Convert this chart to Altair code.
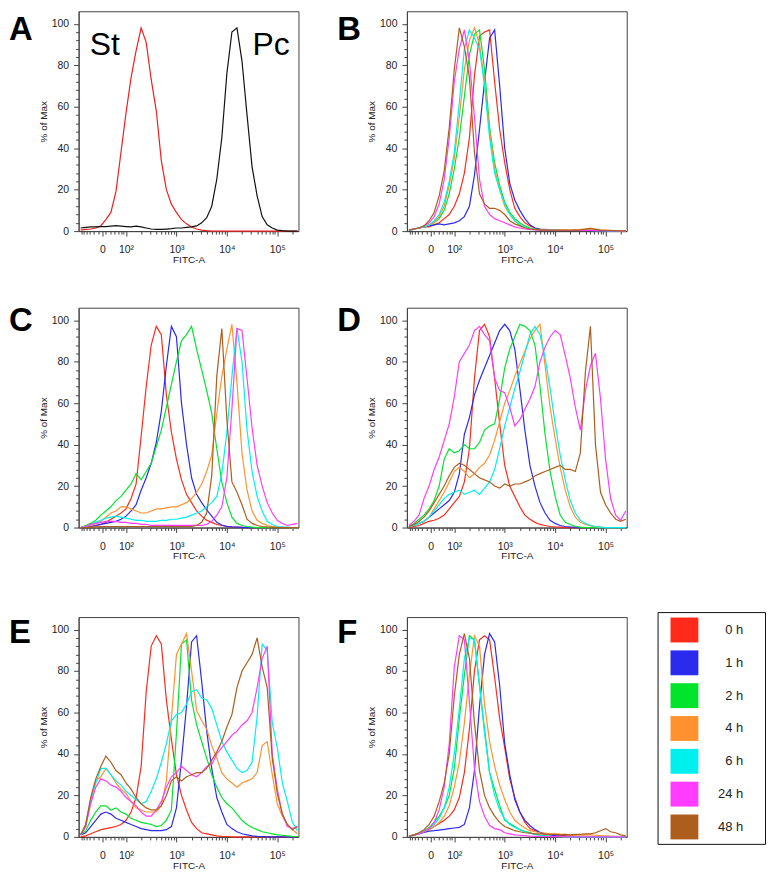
import altair as alt
import pandas as pd

FONT = "Liberation Sans"

# x positions of the histogram bins, in display decades (2 = 10^2, 3 = 10^3 ...)
U_GRID = [1.1, 1.2, 1.3, 1.4, 1.5, 1.6, 1.7, 1.8, 1.9, 2.0,
          2.1, 2.2, 2.3, 2.4, 2.5, 2.6, 2.7, 2.8, 2.9, 3.0,
          3.1, 3.2, 3.3, 3.4, 3.5, 3.6, 3.7, 3.8, 3.9, 4.0,
          4.1, 4.2, 4.3, 4.4, 4.5, 4.6, 4.7, 4.8, 4.9, 5.0,
          5.1, 5.2, 5.3, 5.4]

SERIES = ["0 h", "1 h", "2 h", "4 h", "6 h", "24 h", "48 h"]
COLORS = ["#FF2A1A", "#2B2BF0", "#00E52C", "#FF922E", "#00F0F0", "#FF3CFF", "#AD5E1C"]

X_MAJOR = [1.53, 2, 3, 4, 5]
X_MAJOR_LABELS = ["0", "10\u00b2", "10\u00b3", "10\u2074", "10\u2075"]
X_MINOR = [1.11, 1.16, 1.21, 1.28, 1.36, 1.46, 1.60, 1.70, 1.78, 1.85, 1.90, 1.95,
           2.301, 2.477, 2.602, 2.699, 2.778, 2.845, 2.903, 2.954,
           3.301, 3.477, 3.602, 3.699, 3.778, 3.845, 3.903, 3.954,
           4.301, 4.477, 4.602, 4.699, 4.778, 4.845, 4.903, 4.954,
           5.301]
Y_TICKS = [0, 4, 8, 12, 16, 20, 24, 28, 32, 36, 40, 44, 48, 52, 56, 60,
           64, 68, 72, 76, 80, 84, 88, 92, 96, 100]

# ---- Panel A ----
A_NAMES = ["St", "Pc"]
A_COLORS = ["#F01E1E", "#111111"]
A_ST = [0.5, 0.8, 1, 1.5, 2.5, 5.5, 9, 19, 38, 57,
        74, 87, 98, 91, 73, 58, 34, 20, 13, 9,
        5.5, 3.5, 2, 1, 0.5, 0.2, 0, 0, 0, 0,
        0, 0, 0, 0, 0, 0, 0, 0, 0, 0,
        0, 0, 0, 0]
A_PC = [1.5, 1.8, 2, 2, 2.2, 2.2, 2.4, 2.6, 2.4, 2.2,
        2, 2.4, 2, 1.5, 1, 0.8, 0.8, 1, 1.2, 1.5,
        1.5, 1.8, 2, 2.5, 4, 6.5, 12, 25, 45, 76,
        96, 98, 82, 56, 31, 17, 7, 3, 1.5, 0.5,
        0.2, 0, 0, 0]
ANNOT_TEXT = ["St", "Pc"]
ANNOT_U = [1.28, 4.51]
ANNOT_V = [85, 85]

# ---- Panel B ----
B_0H = [0.5, 1, 1.5, 2, 2, 3, 4, 6, 8, 12,
        18, 28, 45, 75, 94, 96, 97, 72, 49, 33,
        20, 11, 7, 4, 2.5, 1.5, 1, 0.8, 0.6, 0.5,
        0.5, 0.5, 0.4, 0.5, 0.6, 0.5, 0.5, 0.4, 0.3, 0.3,
        0.2, 0.2, 0.1, 0]
B_1H = [0.5, 1, 1.5, 2, 2.5, 3, 3.5, 3, 3.5, 4,
        5, 7, 12, 27, 49, 72, 93, 97, 70, 40,
        23, 15, 10, 6, 3, 1.5, 0.8, 0.5, 0.4, 0.4,
        0.3, 0.3, 0.3, 0.3, 0.3, 0.3, 0.2, 0.2, 0.2, 0.2,
        0.1, 0.1, 0, 0]
B_2H = [0.3, 1, 1.5, 2, 3, 4, 6, 10, 18, 30,
        45, 65, 85, 95, 97, 78, 50, 33, 22, 14,
        9, 6, 4, 2.5, 1.5, 1, 0.8, 0.6, 0.5, 0.5,
        0.4, 0.4, 0.3, 0.4, 0.5, 0.4, 0.3, 0.3, 0.3, 0.2,
        0.2, 0.1, 0.1, 0]
B_4H = [0.3, 0.8, 1.5, 2, 3, 4, 7, 12, 22, 35,
        55, 78, 92, 98, 90, 72, 48, 30, 20, 12,
        8, 5, 3, 2, 1, 0.8, 0.6, 0.5, 0.5, 0.6,
        0.5, 0.5, 0.5, 0.6, 0.8, 1, 1.5, 1, 0.6, 0.5,
        0.4, 0.3, 0.2, 0.1]
B_6H = [0.3, 0.8, 1.5, 2, 3, 5, 8, 14, 24, 38,
        62, 88, 97, 93, 88, 70, 45, 28, 20, 13,
        8, 5, 3, 2, 1, 0.8, 0.6, 0.5, 0.4, 0.4,
        0.3, 0.3, 0.3, 0.3, 0.3, 0.3, 0.3, 0.2, 0.2, 0.2,
        0.1, 0.1, 0, 0]
B_24H = [0.5, 1, 1.5, 2.5, 4, 7, 13, 25, 45, 72,
         88, 97, 82, 55, 25, 12, 8, 6, 5, 4,
         3, 2, 1.5, 1, 0.8, 0.6, 0.5, 0.5, 0.4, 0.4,
         0.3, 0.3, 0.3, 0.3, 0.3, 0.3, 0.3, 0.2, 0.2, 0.2,
         0.1, 0.1, 0, 0]
B_48H = [0.5, 1, 1.5, 2.5, 5, 9, 17, 29, 50, 78,
         98, 89, 74, 38, 18, 13, 11, 11, 10, 8,
         5, 3.5, 2.5, 1.5, 1, 0.8, 0.5, 0.5, 0.4, 0.4,
         0.4, 0.4, 0.4, 0.5, 0.6, 1, 1.2, 0.8, 0.5, 0.4,
         0.3, 0.2, 0.1, 0]

# ---- Panel C ----
C_0H = [0, 0.3, 0.5, 1, 1.5, 2.5, 4, 5.5, 7, 9,
        14, 21, 44, 68, 88, 97, 93, 64, 46, 33,
        23, 16, 12, 8, 5.5, 3.5, 2.5, 1.5, 1, 0.5,
        0.3, 0.2, 0.1, 0, 0, 0, 0, 0, 0, 0,
        0, 0, 0, 0]
C_1H = [0, 0.2, 0.5, 1, 1.5, 2, 2.5, 3, 4, 5.5,
        8, 11, 18, 24, 31, 41, 56, 78, 97, 92,
        60, 40, 24, 16, 12, 8.5, 5.5, 2.5, 1.2, 0.6,
        0.3, 0.2, 0.1, 0, 0, 0, 0, 0, 0, 0,
        0, 0, 0, 0]
C_2H = [0, 1, 2, 3.5, 6, 8, 10, 13, 15, 18,
        21, 26, 23, 27, 31, 39, 47, 58, 69, 80,
        90, 93, 97, 86, 76, 66, 55, 38, 22, 12,
        5, 2, 1, 0.5, 0.2, 0, 0, 0, 0, 0,
        0, 0, 0, 0]
C_4H = [0, 0.5, 1, 2, 3, 5, 7, 8, 10, 10,
        9, 8, 7, 7, 8, 9, 9, 9.5, 10, 10,
        11, 12, 14, 17, 21, 27, 35, 55, 73, 86,
        98, 70, 36, 18, 8, 3.5, 2, 1, 0.5, 0.3,
        0.2, 0, 0, 0]
C_6H = [0, 0.5, 1.5, 2.5, 3.5, 4.5, 5, 5.5, 5, 4.5,
        4, 3.5, 3.5, 3, 3, 3, 3.5, 3.5, 4, 4,
        4.5, 5, 6, 7, 8, 10, 12, 15, 26, 46,
        73, 96, 80, 47, 27, 15, 8, 3, 1.5, 0.5,
        0.3, 0.2, 0, 0]
C_24H = [0, 0.5, 1.5, 2, 2.5, 3, 3, 3, 2.5, 2.5,
         2, 2, 1.5, 1.5, 1, 1, 1, 1, 1, 1,
         1, 1, 1, 1, 1, 1.5, 3, 6, 10, 24,
         57, 96, 95, 72, 48, 30, 20, 12, 7, 3.5,
         2, 1, 1.5, 2]
C_48H = [0, 0, 0.2, 0.3, 0.4, 0.5, 0.5, 0.5, 0.5, 0.5,
         0.5, 0.5, 0.5, 0.5, 0.5, 0.5, 0.5, 0.5, 0.5, 0.5,
         0.5, 0.5, 0.5, 1, 2.5, 7, 25, 73, 96, 52,
         22, 17, 11, 4, 2, 1, 0.5, 0.3, 0.2, 0,
         0, 0, 0, 0]

# ---- Panel D ----
D_0H = [0, 0.5, 1, 2, 3, 3.5, 4.5, 6, 9, 12,
        15, 22, 38, 72, 95, 98, 92, 72, 50, 30,
        20, 15, 10, 6, 4, 2.5, 1.5, 1, 0.5, 0.3,
        0.2, 0, 0, 0, 0, 0, 0, 0, 0, 0,
        0, 0, 0, 0]
D_1H = [0.5, 1, 2, 3, 5, 7, 9, 11, 13, 17,
        26, 45, 53, 64, 71, 77, 83, 89, 95, 98,
        95, 86, 67, 47, 30, 20, 12, 7, 3.5, 2,
        1, 0.5, 0.3, 0.2, 0, 0, 0, 0, 0, 0,
        0, 0, 0, 0]
D_2H = [0.5, 2, 4, 6, 9, 13, 20, 33, 38, 36,
        37, 40, 38, 38, 41, 47, 49, 50, 62, 77,
        86, 92, 98, 97, 95, 88, 68, 45, 27, 15,
        6, 2.5, 1.5, 0.5, 0.2, 0, 0, 0, 0, 0,
        0, 0, 0, 0]
D_4H = [0.5, 1, 2, 3, 5, 9, 13, 17, 22, 27,
        29, 27, 24, 26, 29, 31, 35, 42, 51, 60,
        66, 73, 79, 85, 91, 95, 98, 78, 58, 43,
        29, 18, 10, 5, 2.5, 1.5, 0.8, 0.4, 0.2, 0,
        0, 0, 0, 0]
D_6H = [0.5, 1, 2, 3, 5, 8, 11, 14, 16, 17,
        18, 16, 17, 18, 16, 19, 22, 28, 38, 49,
        58, 67, 75, 84, 93, 97, 93, 82, 67, 50,
        35, 23, 13, 7, 3.5, 2, 1, 0.5, 0.2, 0,
        0, 0, 0, 0]
D_24H = [1, 3, 6, 14, 20, 28, 34, 42, 50, 63,
         80, 84, 88, 95, 97, 93, 90, 72, 66, 65,
         58, 49, 52, 57, 62, 68, 80, 87, 92, 95,
         93, 83, 72, 58, 47, 66, 78, 84, 62, 33,
         14, 6, 3.5, 8]
D_48H = [0.5, 1.5, 3, 5, 8, 12, 16, 20, 25, 29,
         31, 30, 28, 26, 24, 23, 22, 20, 19, 21,
         20, 21, 21, 22, 23, 25, 26, 27, 28, 29,
         30, 28, 28, 27, 36, 75, 97, 40, 17, 11,
         7, 4, 3, 4]

# ---- Panel E ----
E_0H = [0, 0.5, 1.5, 2.5, 3.5, 4, 4.5, 5, 6, 8,
        12, 19, 34, 70, 92, 97, 93, 66, 47, 30,
        20, 13, 7, 4, 2, 1.5, 1, 0.5, 0.3, 0.2,
        0, 0, 0, 0, 0, 0, 0, 0, 0, 0,
        0, 0, 0, 0]
E_1H = [1, 2, 5, 8, 11, 12, 11, 9, 8, 7,
        6, 5, 4, 3.5, 3, 3, 3, 3.5, 5, 14,
        37, 63, 94, 97, 75, 51, 33, 19, 12, 6,
        4, 2.5, 1.5, 1, 0.5, 0.3, 0.2, 0, 0, 0,
        0, 0, 0, 0]
E_2H = [1, 3, 8, 12, 15, 15, 13, 14, 12, 11,
        9, 8, 7, 6.5, 6, 5, 5.5, 8, 13, 50,
        93, 95, 66, 54, 46, 38, 30, 24, 19, 16,
        14, 11, 8, 6, 4.5, 3.5, 2.5, 2, 1.5, 1,
        0.8, 0.5, 0.3, 0.2]
E_4H = [1, 5, 18, 27, 29, 33, 30, 26, 23, 21,
        17, 14, 13, 12, 12, 12, 15, 27, 57, 88,
        93, 98, 80, 61, 56, 52, 44, 38, 31, 28,
        26, 24, 26, 27, 28, 31, 44, 46, 30, 16,
        10, 6, 3.5, 1.5]
E_6H = [1, 6, 18, 26, 33, 33, 30, 27, 25, 22,
        20, 18, 16, 17, 22, 28, 36, 45, 56, 59,
        60, 64, 70, 71, 67, 66, 62, 54, 46, 41,
        37, 33, 31, 32, 36, 58, 93, 90, 55, 43,
        26, 17, 7, 3]
E_24H = [1, 5, 16, 24, 28, 27, 25, 24, 22, 19,
         17, 15, 12, 10, 10, 13, 17, 24, 29, 31,
         34, 32, 30, 29, 31, 34, 35, 40, 43, 46,
         49, 51, 54, 56, 60, 72, 86, 92, 40, 23,
         11, 5, 4, 5]
E_48H = [1, 6, 19, 28, 34, 39, 36, 32, 30, 26,
         23, 19, 16, 14, 13, 13, 15, 20, 27, 29,
         27, 29, 30, 31, 31, 33, 37, 41, 46, 53,
         59, 72, 80, 84, 88, 96, 82, 72, 38, 21,
         11, 6, 3.5, 5]

# ---- Panel F ----
F_0H = [0.3, 0.8, 1.5, 2.5, 3.5, 5, 6.5, 8, 10, 13,
        19, 31, 52, 80, 95, 97, 95, 77, 57, 43,
        28, 19, 12, 7, 4, 3, 2, 1.5, 1.2, 1,
        0.8, 0.6, 0.5, 0.4, 0.3, 0.3, 0.2, 0.2, 0.2, 0.1,
        0.1, 0, 0, 0]
F_1H = [0.3, 1, 1.5, 2.2, 2.8, 3, 3.3, 3.6, 4, 4.3,
        4.6, 6, 14, 32, 63, 88, 98, 94, 73, 45,
        30, 18, 12, 8, 5.5, 3.5, 2.2, 1.5, 1, 0.6,
        0.4, 0.3, 0.2, 0.1, 0, 0, 0, 0, 0, 0,
        0, 0, 0, 0]
F_2H = [0.3, 1, 1.8, 3, 4.5, 7, 10, 14, 20, 33,
        57, 78, 97, 95, 73, 52, 31, 23, 15, 8,
        6.5, 5, 3.5, 2.7, 2, 1.3, 0.8, 0.5, 0.3, 0.2,
        0.1, 0, 0, 0, 0, 0, 0, 0, 0, 0,
        0, 0, 0, 0]
F_4H = [0.3, 0.8, 1.5, 2.5, 3.5, 5, 7, 10, 15, 24,
        36, 55, 78, 97, 92, 64, 46, 34, 25, 18,
        12, 8, 6, 4.3, 3, 2.5, 2, 1.8, 1.5, 1.5,
        1.3, 1.2, 1, 1, 1, 1, 1, 0.8, 0.6, 0.5,
        0.4, 0.3, 0.2, 0.1]
F_6H = [0.3, 0.8, 1.5, 2.5, 4, 6, 9, 14, 24, 40,
        62, 86, 96, 95, 73, 50, 31, 20, 13, 8.5,
        6, 4.5, 3.5, 2.5, 1.8, 1.2, 0.8, 0.5, 0.3, 0.2,
        0.1, 0, 0, 0, 0, 0, 0, 0, 0, 0,
        0, 0, 0, 0]
F_24H = [0.3, 0.8, 1.5, 2.5, 4, 7, 13, 24, 45, 82,
         97, 95, 65, 33, 17, 10, 5.5, 4, 3.5, 2,
         1.5, 1, 0.8, 0.6, 0.4, 0.3, 0.2, 0.2, 0.1, 0.1,
         0.1, 0, 0, 0, 0, 0, 0, 0, 0, 0,
         0, 0, 0, 0]
F_48H = [0.3, 1, 2, 3.5, 6, 10, 17, 26, 40, 68,
         88, 98, 86, 55, 32, 20, 14, 10, 7, 5,
         4, 3, 2.5, 2, 1.8, 1.5, 1.5, 1.2, 1.2, 1.2,
         1, 1.2, 1, 1.2, 1.2, 1.5, 1.5, 2, 3, 4,
         2.5, 2, 1, 0.5]


def frame_of(names, curves, colors):
    rows = []
    for i, (name, vals) in enumerate(zip(names, curves)):
        assert len(vals) == len(U_GRID), (name, len(vals))
        for u, v in zip(U_GRID, vals):
            rows.append({"u": u, "v": v, "series": name, "hex": colors[i]})
    return pd.DataFrame(rows)


XS = alt.Scale(domain=[1.06, 5.42], nice=False, zero=False)
YS = alt.Scale(domain=[0, 106], nice=False, zero=False)
CSCALE = alt.Scale(domain=SERIES, range=COLORS)

x_label_expr = ""
for val, lab in zip(X_MAJOR, X_MAJOR_LABELS):
    x_label_expr += f"datum.value === {val} ? '{lab}' : "
x_label_expr += "''"
x_major_test = "indexof([" + ",".join(str(v) for v in X_MAJOR) + "], datum.value) >= 0"

X_AXIS = alt.Axis(
    title="FITC-A", values=X_MAJOR + X_MINOR, labelExpr=x_label_expr,
    tickSize={"condition": {"test": x_major_test, "value": 5}, "value": 3},
    labelOverlap=False, labelFlush=False, labelFontSize=10.5, labelPadding=9,
    titleFontSize=10, titlePadding=-1,
)
Y_AXIS = alt.Axis(
    title="% of Max", values=Y_TICKS,
    labelExpr="datum.value % 20 === 0 ? datum.label : ''",
    tickSize={"condition": {"test": "datum.value % 20 === 0", "value": 5}, "value": 3},
    labelOverlap=False, labelFlush=False, labelFontSize=10.5, labelPadding=5,
    titleFontSize=10, titlePadding=3,
)

LEGEND = alt.Legend(
    orient="none", legendX=252, legendY=-5,
    title="x", titleOrient="right", titleColor="white", titleFontSize=12,
    titlePadding=11,
    symbolType="M-1,-0.893H1V0.893H-1Z", symbolSize=784,
    symbolStrokeWidth=0, symbolOpacity=1, symbolOffset=9,
    labelAlign="right", labelOffset=45, labelFont=FONT, labelFontSize=13,
    labelColor="#222222",
    rowPadding=6, padding=4, strokeColor="#111111",
)


def letter_layer(ch, ybase):
    return alt.Chart(pd.DataFrame({"t": [ch]})).mark_text(
        align="left", baseline="alphabetic", fontSize=33, fontWeight="bold",
        font=FONT, color="black"
    ).encode(text="t:N", x=alt.value(-70), y=alt.value(ybase))


def spacer_layer(y):
    return alt.Chart(pd.DataFrame({"t": [0]})).mark_rule(
        color="white", strokeWidth=1
    ).encode(x=alt.value(0), x2=alt.value(1), y=alt.value(y))


def lines_layer(df):
    return alt.Chart(df).mark_line(strokeWidth=1.2).encode(
        x=alt.X("u:Q", scale=XS, axis=X_AXIS),
        y=alt.Y("v:Q", scale=YS, axis=Y_AXIS),
        color=alt.Color("hex:N", scale=None),
        detail="series:N",
    )


def panel(curves, ch, ybase, spacer=None, legend=False):
    df = frame_of(SERIES, curves, COLORS)
    layers = [lines_layer(df)]
    if legend:
        layers.append(
            alt.Chart(df).mark_square(filled=True, opacity=1, size=10)
            .encode(color=alt.Color("series:N", scale=CSCALE, legend=LEGEND))
            .transform_filter("false")
        )
    layers.append(letter_layer(ch, ybase))
    if spacer is not None:
        layers.append(spacer_layer(spacer))
    return alt.layer(*layers).properties(width=221, height=221)


# Panel A
dfA = frame_of(A_NAMES, [A_ST, A_PC], A_COLORS)
annot = pd.DataFrame({"u": ANNOT_U, "v": ANNOT_V, "t": ANNOT_TEXT})
panelA = alt.layer(
    lines_layer(dfA),
    alt.Chart(annot).mark_text(align="left", baseline="alphabetic", fontSize=32,
                               font=FONT, color="black").encode(
        x=alt.X("u:Q", scale=XS, axis=X_AXIS),
        y=alt.Y("v:Q", scale=YS, axis=Y_AXIS),
        text="t:N"),
    letter_layer("A", 29),
).properties(width=221, height=221)

panelB = panel([B_0H, B_1H, B_2H, B_4H, B_6H, B_24H, B_48H], "B", 29)
panelC = panel([C_0H, C_1H, C_2H, C_4H, C_6H, C_24H, C_48H], "C", 23, spacer=-20)
panelD = panel([D_0H, D_1H, D_2H, D_4H, D_6H, D_24H, D_48H], "D", 23)
panelE = panel([E_0H, E_1H, E_2H, E_4H, E_6H, E_24H, E_48H], "E", 26, spacer=-33)
panelF = panel([F_0H, F_1H, F_2H, F_4H, F_6H, F_24H, F_48H], "F", 26, legend=True)


def row(a, b):
    return alt.hconcat(a, b, spacing=109, bounds="flush").resolve_scale(
        color="independent").resolve_legend(color="independent")


chart = alt.vconcat(row(panelA, panelB), row(panelC, panelD), row(panelE, panelF),
                    spacing=22).resolve_scale(color="independent").resolve_legend(
    color="independent"
).properties(padding=0).configure_view(
    stroke="#444444", strokeWidth=1
).configure_axis(
    grid=False, domainColor="#444444", tickColor="#444444",
    labelFont=FONT, titleFont=FONT, labelColor="#222222", titleColor="#222222",
    titleFontWeight="normal",
)

chart.save("out.html", embed_options={"renderer": "svg", "actions": False})
